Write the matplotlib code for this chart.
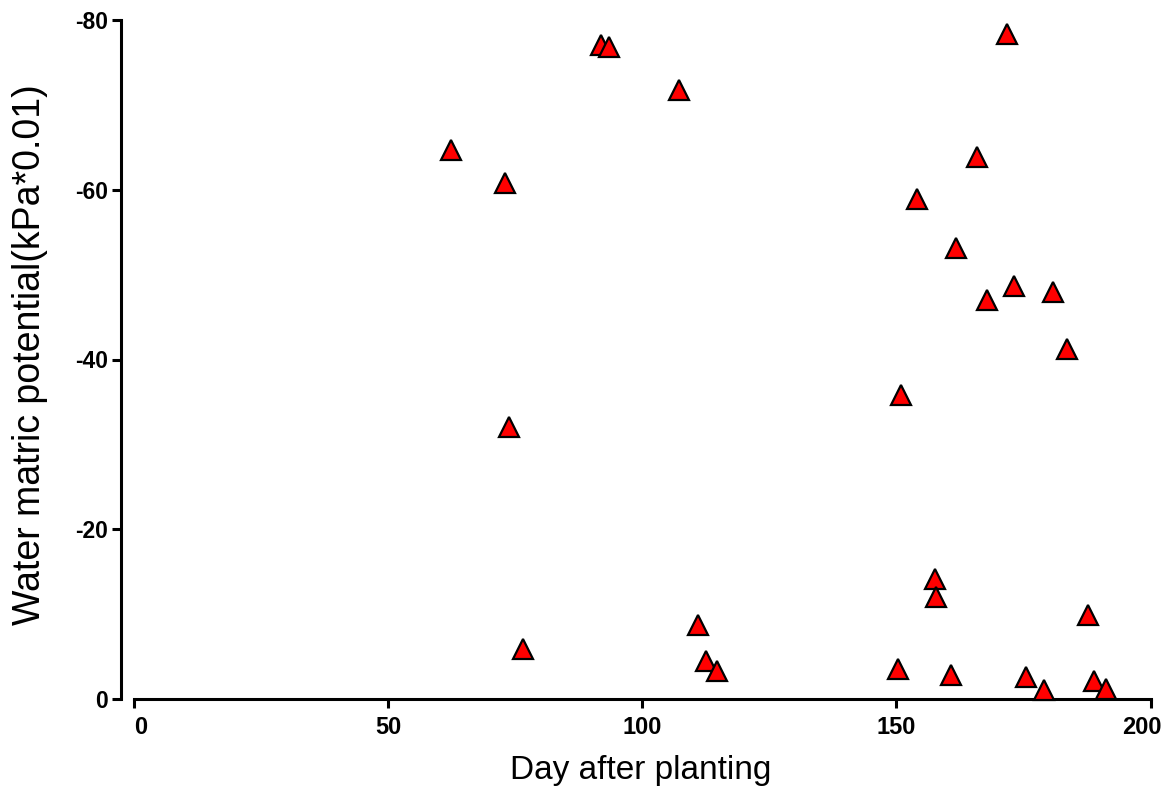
import matplotlib
matplotlib.use("Agg")
import matplotlib.pyplot as plt
import matplotlib.transforms as mtransforms

# Data
days = [91.9, 93.4, 107.2, 62.4, 73.0,
        171.7, 165.8, 154.0, 161.8, 173.2, 167.8, 180.7, 183.5, 150.8,
        157.6, 157.8, 187.7, 150.4, 160.7, 175.5, 179.1, 188.9, 191.3,
        73.8, 76.5, 111.0, 112.5, 114.6]
potential = [-77.1, -76.8, -71.8, -64.7, -60.8,
             -78.4, -63.9, -58.9, -53.1, -48.7, -47.0, -48.0, -41.2, -35.8,
             -14.1, -12.0, -9.9, -3.5, -2.85, -2.55, -1.1, -2.1, -1.15,
             -32.1, -5.9, -8.7, -4.5, -3.3]

xticks = [0, 50, 100, 150, 200]
xticklabels = ["0", "50", "100", "150", "200"]
yticks = [-80, -60, -40, -20, 0]
yticklabels = ["-80", "-60", "-40", "-20", "0"]

plt.rcParams['font.family'] = ['Liberation Sans', 'DejaVu Sans']

fig = plt.figure(figsize=(11.66, 7.89), dpi=100)
ax = fig.add_axes([121/1166, 90/789, (1155.7-121)/1166, (769-90)/789])

ax.plot(days, potential, linestyle='none', marker='^', markersize=14,
        markerfacecolor='#FF0000', markeredgecolor='black', markeredgewidth=1.6,
        clip_on=False, zorder=3)

ax.set_xlim(-2.56, 201.0)
ax.set_ylim(0, -80)

for s in ['top', 'right']:
    ax.spines[s].set_visible(False)
ax.spines['left'].set_linewidth(2.2)
ax.spines['bottom'].set_linewidth(2.2)
ax.spines['bottom'].set_bounds(0, 200)
ax.spines['left'].set_bounds(-80, 0)

ax.set_xticks(xticks)
ax.set_xticklabels(xticklabels, fontsize=17, fontweight='bold')
ax.set_yticks(yticks)
ax.set_yticklabels(yticklabels, fontsize=16.5, fontweight='bold')
ax.tick_params(axis='both', width=2.2, length=6.5, direction='out')
ax.tick_params(axis='x', pad=6)
ax.tick_params(axis='y', pad=3)

# nudge the end x tick labels inward as in the reference
xl = ax.get_xticklabels()
xl[0].set_transform(xl[0].get_transform() + mtransforms.ScaledTranslation(0.07, 0, fig.dpi_scale_trans))
xl[-1].set_transform(xl[-1].get_transform() + mtransforms.ScaledTranslation(-0.09, 0, fig.dpi_scale_trans))

ax.set_xlabel("Day after planting", fontsize=24)
ax.xaxis.set_label_coords(0.502, -0.083)
ax.set_ylabel("Water matric potential(kPa*0.01)", fontsize=27)
ax.yaxis.set_label_coords(-0.0706, 0.507)

fig.savefig("out.png", dpi=100)
